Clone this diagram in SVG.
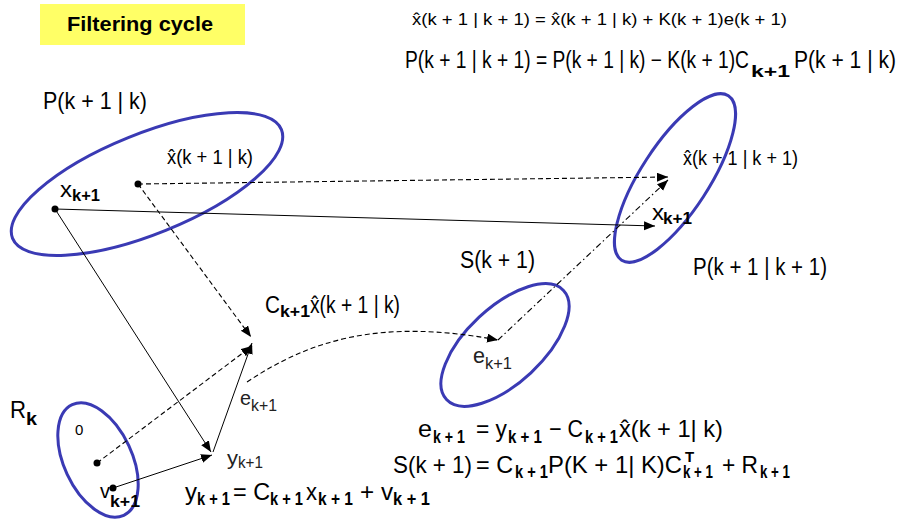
<svg xmlns="http://www.w3.org/2000/svg" width="902" height="521" viewBox="0 0 902 521">
<style>
text{font-family:"Liberation Sans",Arial,sans-serif;fill:#000}
.sb{font-weight:bold}
.g{fill:#222}
.ell{fill:none;stroke:#3a3ab4;stroke-width:3}
.ln{fill:none;stroke:#000;stroke-width:1}
.ds{fill:none;stroke:#000;stroke-width:1.1;stroke-dasharray:5,3}
.dd{fill:none;stroke:#000;stroke-width:1.1;stroke-dasharray:6,3,1.5,3}
</style>
<defs>
<marker id="ar" markerUnits="userSpaceOnUse" markerWidth="12" markerHeight="10" refX="11" refY="4.5" orient="auto">
<path d="M0,0 L11,4.5 L0,9 z" fill="#000"/>
</marker>
</defs>
<rect x="0" y="0" width="902" height="521" fill="#fff"/>
<g id="title">
<rect x="40" y="4" width="205" height="41" fill="#ffff66"/>
<text x="67" y="31" font-size="21" class="sb" textLength="146" lengthAdjust="spacingAndGlyphs">Filtering cycle</text>
</g>
<g id="equations-top">
<text x="412" y="25" font-size="17" textLength="375" lengthAdjust="spacingAndGlyphs">x̂(k + 1 | k + 1) = x̂(k + 1 | k) + K(k + 1)e(k + 1)</text>
<text x="405" y="68" font-size="23" textLength="344" lengthAdjust="spacingAndGlyphs">P(k + 1 | k + 1) = P(k + 1 | k) − K(k + 1)C</text>
<text x="751" y="77" font-size="16" class="sb" textLength="39" lengthAdjust="spacingAndGlyphs">k+1</text>
<text x="794" y="68" font-size="23" textLength="102" lengthAdjust="spacingAndGlyphs">P(k + 1 | k)</text>
</g>
<g id="node-prior">
<ellipse class="ell" cx="147" cy="184" rx="145" ry="50" transform="rotate(-22 147 184)"/>
<text x="43" y="109" font-size="24" textLength="104" lengthAdjust="spacingAndGlyphs">P(k + 1 | k)</text>
<circle cx="55" cy="209" r="3.5"/>
<circle cx="138" cy="184" r="3.5"/>
<text x="60" y="197" font-size="22" textLength="12" lengthAdjust="spacingAndGlyphs">x</text>
<text x="72" y="201" font-size="17" class="sb" textLength="28" lengthAdjust="spacingAndGlyphs">k+1</text>
<text x="167" y="164" font-size="21" textLength="86" lengthAdjust="spacingAndGlyphs">x̂(k + 1 | k)</text>
</g>
<g id="node-posterior">
<ellipse class="ell" cx="675" cy="178" rx="98" ry="34" transform="rotate(-57 675 178)"/>
<text x="683" y="165" font-size="21" textLength="115" lengthAdjust="spacingAndGlyphs">x̂(k + 1 | k + 1)</text>
<text x="652" y="220" font-size="22" textLength="12" lengthAdjust="spacingAndGlyphs">x</text>
<text x="663" y="224" font-size="17" class="sb" textLength="29" lengthAdjust="spacingAndGlyphs">k+1</text>
<text x="693" y="275" font-size="23" textLength="134" lengthAdjust="spacingAndGlyphs">P(k + 1 | k + 1)</text>
</g>
<g id="node-innovation">
<ellipse class="ell" cx="505" cy="345" rx="80" ry="38" transform="rotate(-43 505 345)"/>
<text x="460" y="268" font-size="23" textLength="75" lengthAdjust="spacingAndGlyphs">S(k + 1)</text>
<text x="473" y="363" font-size="22" class="g" textLength="12" lengthAdjust="spacingAndGlyphs">e</text>
<text x="485" y="369" font-size="16" class="g" textLength="27" lengthAdjust="spacingAndGlyphs">k+1</text>
</g>
<g id="node-noise">
<ellipse class="ell" cx="98" cy="460" rx="61" ry="34" transform="rotate(65 98 460)"/>
<text x="10" y="418" font-size="24" textLength="16" lengthAdjust="spacingAndGlyphs">R</text>
<text x="26" y="425" font-size="18" class="sb" textLength="11" lengthAdjust="spacingAndGlyphs">k</text>
<text x="75" y="435" font-size="15">0</text>
<circle cx="97" cy="463" r="3.5"/>
<circle cx="113" cy="488" r="3.5"/>
<text x="100" y="498" font-size="20" textLength="10" lengthAdjust="spacingAndGlyphs">v</text>
<text x="110" y="507" font-size="17" class="sb" textLength="30" lengthAdjust="spacingAndGlyphs">k+1</text>
</g>
<g id="node-measurement">
<text x="265" y="313" font-size="23" textLength="15" lengthAdjust="spacingAndGlyphs">C</text>
<text x="280" y="317" font-size="17" class="sb" textLength="30" lengthAdjust="spacingAndGlyphs">k+1</text>
<text x="310" y="313" font-size="23" textLength="90" lengthAdjust="spacingAndGlyphs">x̂(k + 1 | k)</text>
<text x="240" y="405" font-size="21" class="g" textLength="11" lengthAdjust="spacingAndGlyphs">e</text>
<text x="251" y="411" font-size="16" class="g" textLength="26" lengthAdjust="spacingAndGlyphs">k+1</text>
<text x="227" y="465" font-size="21" class="g" textLength="11" lengthAdjust="spacingAndGlyphs">y</text>
<text x="238" y="468" font-size="16" class="g" textLength="25" lengthAdjust="spacingAndGlyphs">k+1</text>
</g>
<g id="connectors">
<line class="ln" x1="55" y1="209" x2="655" y2="226" marker-end="url(#ar)"/>
<line class="ds" x1="138" y1="184" x2="668" y2="177" marker-end="url(#ar)"/>
<line class="ds" x1="138" y1="184" x2="251" y2="337" marker-end="url(#ar)"/>
<line class="ln" x1="55" y1="209" x2="211" y2="452" marker-end="url(#ar)"/>
<line class="ln" x1="113" y1="488" x2="212" y2="455" marker-end="url(#ar)"/>
<line class="ds" x1="97" y1="463" x2="252" y2="346" marker-end="url(#ar)"/>
<line class="ln" x1="213" y1="452" x2="252" y2="343" marker-end="url(#ar)"/>
<path class="ds" d="M247,382 C310,340 380,318 498,340" marker-end="url(#ar)"/>
<line class="dd" x1="498" y1="340" x2="668" y2="180" marker-end="url(#ar)"/>
</g>
<g id="equations-bottom">
<text x="185" y="500" font-size="24" textLength="12" lengthAdjust="spacingAndGlyphs">y</text>
<text x="197" y="505" font-size="18" class="sb" textLength="33" lengthAdjust="spacingAndGlyphs">k + 1</text>
<text x="233" y="500" font-size="24" textLength="37" lengthAdjust="spacingAndGlyphs">= C</text>
<text x="270" y="505" font-size="18" class="sb" textLength="33" lengthAdjust="spacingAndGlyphs">k + 1</text>
<text x="306" y="500" font-size="24" textLength="11" lengthAdjust="spacingAndGlyphs">x</text>
<text x="318" y="505" font-size="18" class="sb" textLength="35" lengthAdjust="spacingAndGlyphs">k + 1</text>
<text x="360" y="500" font-size="24" textLength="33" lengthAdjust="spacingAndGlyphs">+ v</text>
<text x="393" y="505" font-size="18" class="sb" textLength="37" lengthAdjust="spacingAndGlyphs">k + 1</text>

<text x="418" y="437" font-size="24" textLength="14" lengthAdjust="spacingAndGlyphs">e</text>
<text x="433" y="443" font-size="18" class="sb" textLength="32" lengthAdjust="spacingAndGlyphs">k + 1</text>
<text x="476" y="437" font-size="24" textLength="31" lengthAdjust="spacingAndGlyphs">= y</text>
<text x="508" y="443" font-size="18" class="sb" textLength="34" lengthAdjust="spacingAndGlyphs">k + 1</text>
<text x="549" y="437" font-size="24" textLength="34" lengthAdjust="spacingAndGlyphs">− C</text>
<text x="585" y="443" font-size="18" class="sb" textLength="33" lengthAdjust="spacingAndGlyphs">k + 1</text>
<text x="619" y="437" font-size="24" textLength="104" lengthAdjust="spacingAndGlyphs">x̂(k + 1| k)</text>

<text x="393" y="473" font-size="24" textLength="79" lengthAdjust="spacingAndGlyphs">S(k + 1)</text>
<text x="476" y="473" font-size="24" textLength="37" lengthAdjust="spacingAndGlyphs">= C</text>
<text x="515" y="478" font-size="18" class="sb" textLength="33" lengthAdjust="spacingAndGlyphs">k + 1</text>
<text x="548" y="473" font-size="24" textLength="134" lengthAdjust="spacingAndGlyphs">P(K + 1| K)C</text>
<text x="685" y="462" font-size="15" class="sb">T</text>
<text x="683" y="478" font-size="18" class="sb" textLength="30" lengthAdjust="spacingAndGlyphs">k + 1</text>
<text x="722" y="473" font-size="24" textLength="36" lengthAdjust="spacingAndGlyphs">+ R</text>
<text x="760" y="478" font-size="18" class="sb" textLength="30" lengthAdjust="spacingAndGlyphs">k + 1</text>
</g>
</svg>
